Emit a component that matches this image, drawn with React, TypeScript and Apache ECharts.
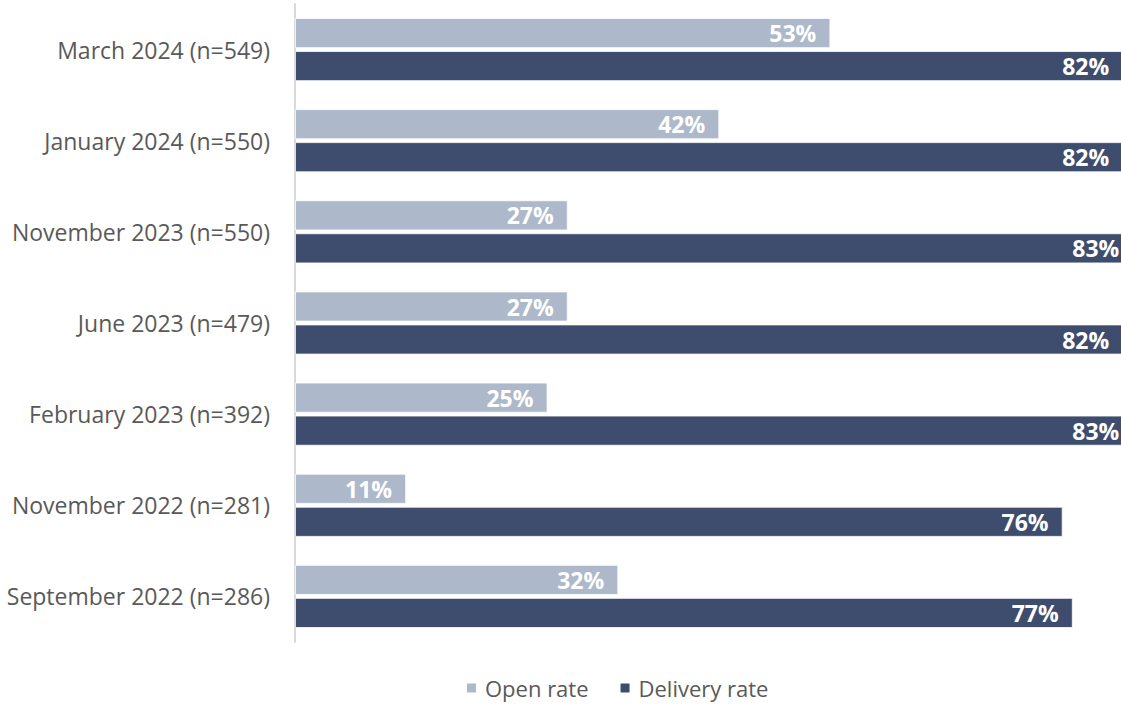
import React, { useEffect, useRef } from "react";
import * as echarts from "echarts";

const categories = [
  "September 2022 (n=286)",
  "November 2022 (n=281)",
  "February 2023 (n=392)",
  "June 2023 (n=479)",
  "November 2023 (n=550)",
  "January 2024 (n=550)",
  "March 2024 (n=549)",
];
const openRate = [32, 11, 25, 27, 27, 42, 53];
const deliveryRate = [77, 76, 83, 82, 83, 82, 82];

export default function App() {
  const ref = useRef<HTMLDivElement>(null);
  useEffect(() => {
    const chart = echarts.init(ref.current!, null, { renderer: "svg" });
    const font = "'Open Sans', 'Noto Sans', sans-serif";
    const label = {
      show: true,
      position: "insideRight",
      distance: 14,
      color: "#ffffff",
      fontWeight: "bold",
      fontSize: 23,
      fontFamily: font,
      formatter: (p: any) => p.value + "%",
    };
    chart.setOption({
      animation: false,
      textStyle: { fontFamily: font },
      grid: { left: 295, right: 5, top: 4, height: 638 },
      legend: {
        left: 460,
        top: 672,
        itemWidth: 11,
        itemHeight: 11,
        itemGap: 30,
        icon: "rect",
        textStyle: { fontSize: 22, color: "#595959", fontFamily: font, padding: [0, 0, 0, 3] },
        data: ["Open rate", "Delivery rate"],
      },
      xAxis: {
        type: "value",
        min: 0,
        max: 100,
        show: false,
      },
      yAxis: {
        type: "category",
        data: categories,
        axisLine: { show: true, lineStyle: { color: "#D9D9D9", width: 2 } },
        axisTick: { show: false },
        axisLabel: { fontSize: 23, color: "#595959", margin: 25, fontFamily: font },
      },
      series: [
        {
          name: "Open rate",
          type: "bar",
          data: openRate,
          barWidth: 30,
          barGap: "10%",
          itemStyle: { color: "#ADB9CA", borderColor: "#ffffff", borderWidth: 0.8 },
          label,
          z: 2,
        },
        {
          name: "Delivery rate",
          type: "bar",
          data: deliveryRate,
          barWidth: 30,
          barGap: "10%",
          itemStyle: { color: "#3E4C6D", borderColor: "#ffffff", borderWidth: 0.8 },
          label,
          z: 2,
        },
      ],
    });
    return () => chart.dispose();
  }, []);
  return (
    <div style={{ position: "absolute", left: 0, top: 0, width: 1121, height: 706, overflow: "hidden", background: "#fff" }}>
      <div ref={ref} style={{ width: 1310, height: 706 }} />
    </div>
  );
}
